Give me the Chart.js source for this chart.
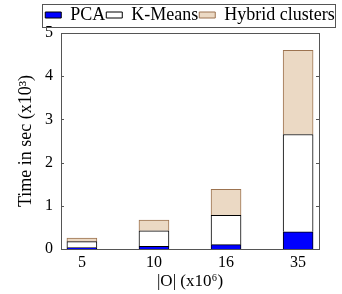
<!DOCTYPE html>
<html>
<head>
<meta charset="utf-8">
<script src="https://cdn.jsdelivr.net/npm/chart.js@4"></script>
<style>
html, body { margin: 0; padding: 0; background: #fff; }
</style>
</head>
<body>
<canvas id="timing-chart" width="342" height="294"></canvas>
<script>
// dataset sizes |O| (x10^6)
const sizes = ['5', '10', '16', '35'];
// stacked times in sec (x10^3)
const pcaTimes = [0.03, 0.06, 0.10, 0.40];
const kmeansTimes = [0.14, 0.36, 0.68, 2.25];
const hybridTimes = [0.08, 0.25, 0.60, 1.95];
const yTicks = [0, 1, 2, 3, 4, 5];

function toPoints(values) {
    return values.map((v, i) => ({ x: i, y: v }));
}

// Frame, inner tick marks and the legend box
const framePlugin = {
    id: 'frame',
    afterLayout(chart) {
        // legend sits a little right of the plot centre
        const legend = chart.legend;
        const dx = 190 - (legend.left + legend.right) / 2;
        legend.left += dx;
        legend.right += dx;
        legend.top += 1;
        legend.bottom += 1;
    },
    afterDatasetsDraw(chart) {
        const ctx = chart.ctx;
        const a = chart.chartArea;
        const y = chart.scales.y;
        ctx.save();
        ctx.strokeStyle = '#555';
        ctx.lineWidth = 1;
        ctx.strokeRect(Math.round(a.left) + 0.5, Math.round(a.top) + 0.5,
            Math.round(a.right - a.left), Math.round(a.bottom - a.top));
        ctx.beginPath();
        yTicks.forEach(v => {
            const py = Math.round(y.getPixelForValue(v)) + 0.5;
            ctx.moveTo(a.left, py);
            ctx.lineTo(a.left + 3, py);
            ctx.moveTo(a.right - 3, py);
            ctx.lineTo(a.right, py);
        });
        ctx.stroke();
        ctx.restore();
    },
    afterDraw(chart) {
        const boxes = chart.legend.legendHitBoxes;
        if (!boxes || !boxes.length) return;
        const left = Math.min(...boxes.map(b => b.left)) - 3;
        const right = Math.max(...boxes.map(b => b.left + b.width)) + 1;
        const top = Math.min(...boxes.map(b => b.top)) - 2;
        const bottom = Math.max(...boxes.map(b => b.top + b.height)) + 3;
        const ctx = chart.ctx;
        ctx.save();
        ctx.strokeStyle = '#555';
        ctx.lineWidth = 1;
        ctx.strokeRect(Math.round(left) + 0.5, Math.round(top) + 0.5,
            Math.round(right - left), Math.round(bottom - top));
        ctx.restore();
    }
};

Chart.defaults.font.family = "'Liberation Serif', serif";
Chart.defaults.font.size = 16;
Chart.defaults.color = '#000';

const chartContext = document.getElementById('timing-chart').getContext('2d');

window.timingChart = new Chart(chartContext, {
    type: 'bar',
    data: {
        datasets: [{
            label: 'PCA',
            data: toPoints(pcaTimes),
            backgroundColor: '#0000ff',
            borderColor: '#000',
            borderWidth: 1,
        }, {
            label: 'K-Means',
            data: toPoints(kmeansTimes),
            backgroundColor: '#ffffff',
            borderColor: '#000',
            borderWidth: 1,
        }, {
            label: 'Hybrid clusters',
            data: toPoints(hybridTimes),
            backgroundColor: '#ebd9c4',
            borderColor: '#9c7350',
            borderWidth: 1,
        }]
    },
    options: {
        responsive: false,
        animation: false,
        barThickness: 30,
        layout: { padding: { left: 14, right: 23, top: 4, bottom: 2 } },
        plugins: {
            legend: {
                labels: {
                    boxWidth: 16,
                    boxHeight: 6,
                    padding: 1,
                    font: { size: 18 }
                }
            },
            tooltip: { enabled: false }
        },
        scales: {
            x: {
                type: 'linear',
                stacked: true,
                offset: false,
                min: -0.29,
                max: 3.29,
                afterBuildTicks: axis => {
                    axis.ticks = sizes.map((s, i) => ({ value: i }));
                },
                afterFit: axis => { axis.height = 43; },
                ticks: {
                    callback: value => sizes[value],
                    padding: 4
                },
                grid: { display: false, drawTicks: false },
                border: { display: false },
                title: {
                    display: true,
                    text: '|O| (x10⁶)',
                    font: { size: 17 },
                    padding: 0
                }
            },
            y: {
                stacked: true,
                min: 0,
                max: 5,
                afterBuildTicks: axis => {
                    axis.ticks = yTicks.map(v => ({ value: v }));
                },
                afterFit: axis => { axis.width = 47; },
                ticks: { padding: 8 },
                grid: { display: false, drawTicks: false },
                border: { display: false },
                title: {
                    display: true,
                    text: 'Time in sec (x10³)',
                    font: { size: 18 },
                    padding: 1
                }
            }
        }
    },
    plugins: [framePlugin]
});
</script>
</body>
</html>
